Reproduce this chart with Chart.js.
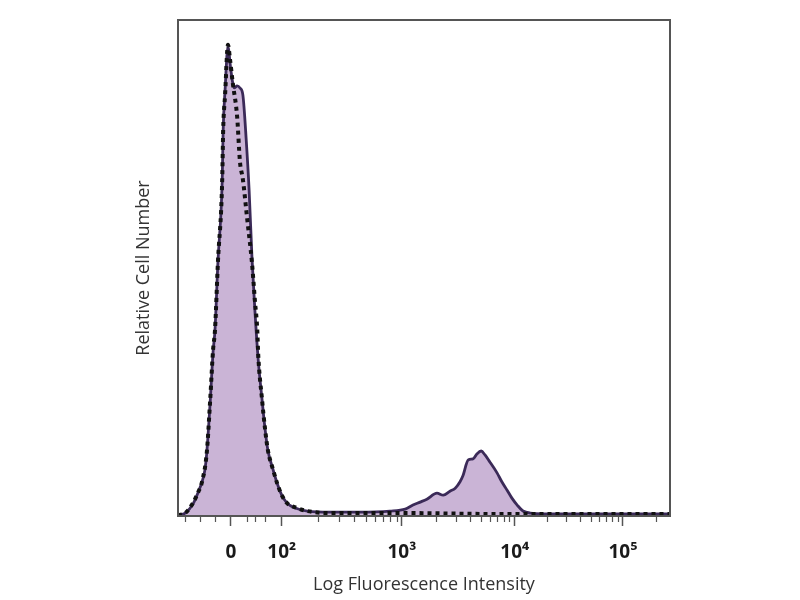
<!DOCTYPE html>
<html>
<head>
<meta charset="utf-8">
<script src="https://cdn.jsdelivr.net/npm/chart.js@4/dist/chart.umd.min.js"></script>
<style>
html,body{margin:0;padding:0;background:#fff;}
#wrap{width:800px;height:600px;position:relative;}
</style>
</head>
<body>
<div id="wrap"><canvas id="c" width="800" height="600"></canvas></div>
<script>
// Channel positions (display channel units, 0-1024)
const stainedX = [0, 15, 31, 42, 50, 56, 60, 67, 73, 77, 83, 92, 94, 98, 104, 110, 117, 123, 129, 135, 142, 148, 154, 160, 167, 175, 181, 187, 198, 206, 216, 227, 244, 269, 316, 379, 441, 473, 489, 504, 518, 539, 552, 566, 577, 587, 593, 604, 614, 622, 631, 639, 649, 664, 674, 685, 695, 706, 718, 733, 795, 878, 962, 1024];
const stainedY = [0.2, 0.6, 2.4, 4.8, 6.9, 9.3, 12.9, 23.0, 33.1, 37.5, 51.0, 67.7, 77.8, 85.9, 94.6, 89.9, 86.3, 86.7, 86.3, 84.9, 75.8, 65.7, 52.0, 41.5, 31.4, 23.4, 17.7, 13.3, 9.3, 6.7, 4.2, 2.6, 1.6, 1.0, 0.8, 0.8, 1.0, 1.4, 2.2, 2.8, 3.4, 4.6, 4.2, 5.0, 5.6, 6.9, 8.1, 11.3, 11.5, 12.5, 13.1, 12.3, 10.9, 8.7, 6.9, 5.2, 3.6, 2.2, 1.0, 0.6, 0.4, 0.4, 0.4, 0.4];

const controlX = [0, 15, 31, 42, 50, 60, 67, 73, 77, 83, 92, 94, 98, 104, 108, 114, 123, 129, 135, 144, 154, 160, 165, 167, 175, 181, 187, 198, 206, 216, 227, 248, 269, 316, 462, 670, 878, 1024];
const controlY = [0.2, 0.6, 2.6, 4.8, 6.9, 12.9, 23.4, 33.5, 37.5, 51.0, 67.7, 77.8, 84.9, 95.0, 92.3, 87.3, 80.6, 71.4, 67.9, 59.9, 51.0, 43.5, 37.5, 32.5, 23.4, 17.7, 13.3, 9.3, 6.7, 4.2, 2.6, 1.6, 1.0, 0.6, 0.6, 0.4, 0.4, 0.4];

// Axis ticks (channel positions) and labels
const majorTickPos = [110, 216, 466, 701, 926];
const majorTickLabels = ['0', '10²', '10³', '10⁴', '10⁵'];
const minorTickPos = [15, 46, 77, 144, 160, 181, 291, 335, 366, 391, 411, 427, 442, 455, 537, 578, 607, 630, 649, 664, 678, 689, 768, 808, 836, 859, 876, 891, 904, 916, 994];

const xTitle = 'Log Fluorescence Intensity';
const yTitle = 'Relative Cell Number';

const toPts = (xs, ys) => xs.map((x, i) => ({x: x, y: ys[i]}));

const framePlugin = {
  id: 'frame',
  afterDraw(chart) {
    const {ctx, chartArea: a, scales} = chart;
    ctx.save();
    ctx.strokeStyle = '#555';
    ctx.lineWidth = 1.2;
    ctx.beginPath();
    minorTickPos.forEach(v => {
      const px = Math.round(scales.x.getPixelForValue(v)) + 0.5;
      ctx.moveTo(px, a.bottom);
      ctx.lineTo(px, a.bottom + 6);
    });
    ctx.stroke();
    ctx.strokeStyle = '#555';
    ctx.lineWidth = 2;
    ctx.strokeRect(a.left, a.top, a.right - a.left, a.bottom - a.top);
    ctx.restore();
  }
};

new Chart(document.getElementById('c'), {
  type: 'line',
  data: {
    datasets: [
      {
        label: 'Isotype control',
        data: toPts(controlX, controlY),
        borderColor: '#111',
        borderWidth: 4,
        borderDash: [4, 4],
        fill: false,
        pointRadius: 0,
        cubicInterpolationMode: 'monotone'
      },
      {
        label: 'Stained',
        data: toPts(stainedX, stainedY),
        borderColor: '#3b2a58',
        borderWidth: 2.8,
        backgroundColor: 'rgb(202,180,214)',
        fill: 'origin',
        pointRadius: 0,
        cubicInterpolationMode: 'monotone'
      }
    ]
  },
  options: {
    responsive: false,
    animation: false,
    layout: {padding: {left: 0, right: 130, top: 20, bottom: 0}},
    plugins: {legend: {display: false}, tooltip: {enabled: false}},
    scales: {
      x: {
        type: 'linear',
        min: 0,
        max: 1024,
        afterBuildTicks: (s) => { s.ticks = majorTickPos.map(v => ({value: v})); },
        afterFit: (s) => { s.height = 84; },
        ticks: {
          autoSkip: false,
          maxRotation: 0,
          padding: 15,
          color: '#1a1a1a',
          font: {family: 'Open Sans', size: 19, weight: 'bold'},
          callback: (v) => { const i = majorTickPos.indexOf(v); return i >= 0 ? majorTickLabels[i] : ''; }
        },
        grid: {drawOnChartArea: false, drawTicks: true, tickLength: 10, tickColor: '#555', tickWidth: 1.5},
        border: {display: false},
        title: {
          display: true,
          text: xTitle,
          color: '#333',
          font: {family: 'Open Sans', size: 18},
          padding: {top: 0, bottom: 4}
        }
      },
      y: {
        min: 0,
        max: 100,
        afterFit: (s) => { s.width = 178; },
        ticks: {display: false},
        grid: {display: false},
        border: {display: false},
        title: {
          display: true,
          text: yTitle,
          color: '#333',
          font: {family: 'Open Sans', size: 18},
          padding: {top: 133, bottom: 0}
        }
      }
    }
  },
  plugins: [framePlugin]
});
</script>
</body>
</html>
